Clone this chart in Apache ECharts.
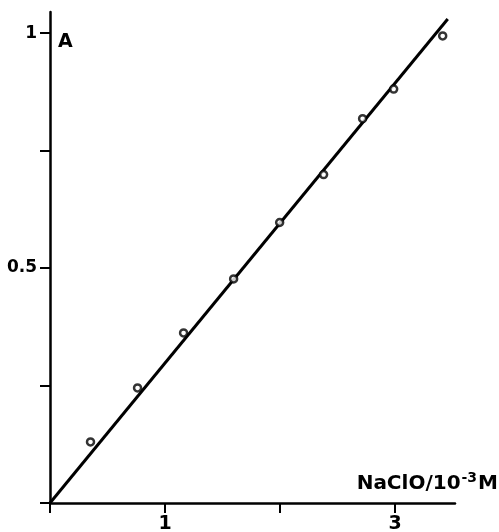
<!DOCTYPE html>
<html>
<head>
<meta charset="utf-8">
<script src="https://cdn.jsdelivr.net/npm/echarts@6/dist/echarts.min.js"></script>
<style>html,body{margin:0;padding:0;background:#fff;}#c{width:499px;height:532px;}</style>
</head>
<body>
<div id="c"></div>
<script>
// measured points (NaClO / 10^-3 M, absorbance A)
const concX = [0.352, 0.761, 1.161, 1.596, 1.996, 2.378, 2.717, 2.987, 3.413];
const absY  = [0.130, 0.245, 0.362, 0.477, 0.597, 0.699, 0.818, 0.881, 0.994];
// fitted line end points
const lineX = [0, 3.457];
const lineY = [0, 1.030];
// axis ticks and labels
const xTicks = [0, 1, 2, 3];
const xLabels = [1, 3];
const yTicks = [0, 0.25, 0.5, 0.75, 1];
const yLabels = [0.5, 1];

const pts = concX.map((x, i) => [x, absY[i]]);
const linePts = lineX.map((x, i) => [x, lineY[i]]);
const FONT = 'DejaVu Sans';

const chart = echarts.init(document.getElementById('c'));
chart.setOption({
  animation: false,
  backgroundColor: '#fff',
  grid: { left: 50, right: 44, top: 12, bottom: 29, outerBoundsMode: 'none', containLabel: false },
  xAxis: {
    type: 'value', min: 0, max: 3.52,
    axisLine: { show: true, onZero: false, lineStyle: { color: '#000', width: 2.5 } },
    axisTick: { show: true, customValues: xTicks, length: 10, inside: false, lineStyle: { color: '#000', width: 2 } },
    axisLabel: { show: true, customValues: xLabels, margin: 12, color: '#000', fontFamily: FONT, fontWeight: 'bold', fontSize: 19 },
    splitLine: { show: false }
  },
  yAxis: {
    type: 'value', min: 0, max: 1.045,
    axisLine: { show: true, onZero: false, lineStyle: { color: '#000', width: 2.5 } },
    axisTick: { show: true, customValues: yTicks, length: 10, inside: false, lineStyle: { color: '#000', width: 2 } },
    axisLabel: { show: true, customValues: yLabels, margin: 13, color: '#000', fontFamily: FONT, fontWeight: 'bold', fontSize: 17,
      formatter: v => String(v) },
    splitLine: { show: false }
  },
  graphic: [
    { type: 'text', left: 58, top: 33, style: { text: 'A', fill: '#000', font: 'bold 19px "DejaVu Sans"' } },
    { type: 'text', x: 498, y: 497,
      style: {
        text: '{a|NaClO/10}{b|-3}{a|M}', align: 'right', verticalAlign: 'bottom',
        rich: {
          a: { fontFamily: FONT, fontWeight: 'bold', fontSize: 20, color: '#000' },
          b: { fontFamily: FONT, fontWeight: 'bold', fontSize: 14, color: '#000', padding: [0, 1, 12, 1] }
        }
      } }
  ],
  series: [
    { type: 'line', data: linePts, symbol: 'none', lineStyle: { color: '#000', width: 3 }, z: 2 },
    { type: 'scatter', data: pts, symbol: 'circle', symbolSize: 7,
      itemStyle: { color: '#fff', borderColor: '#000', borderWidth: 2.5 }, z: 3 }
  ]
});
</script>
</body>
</html>
